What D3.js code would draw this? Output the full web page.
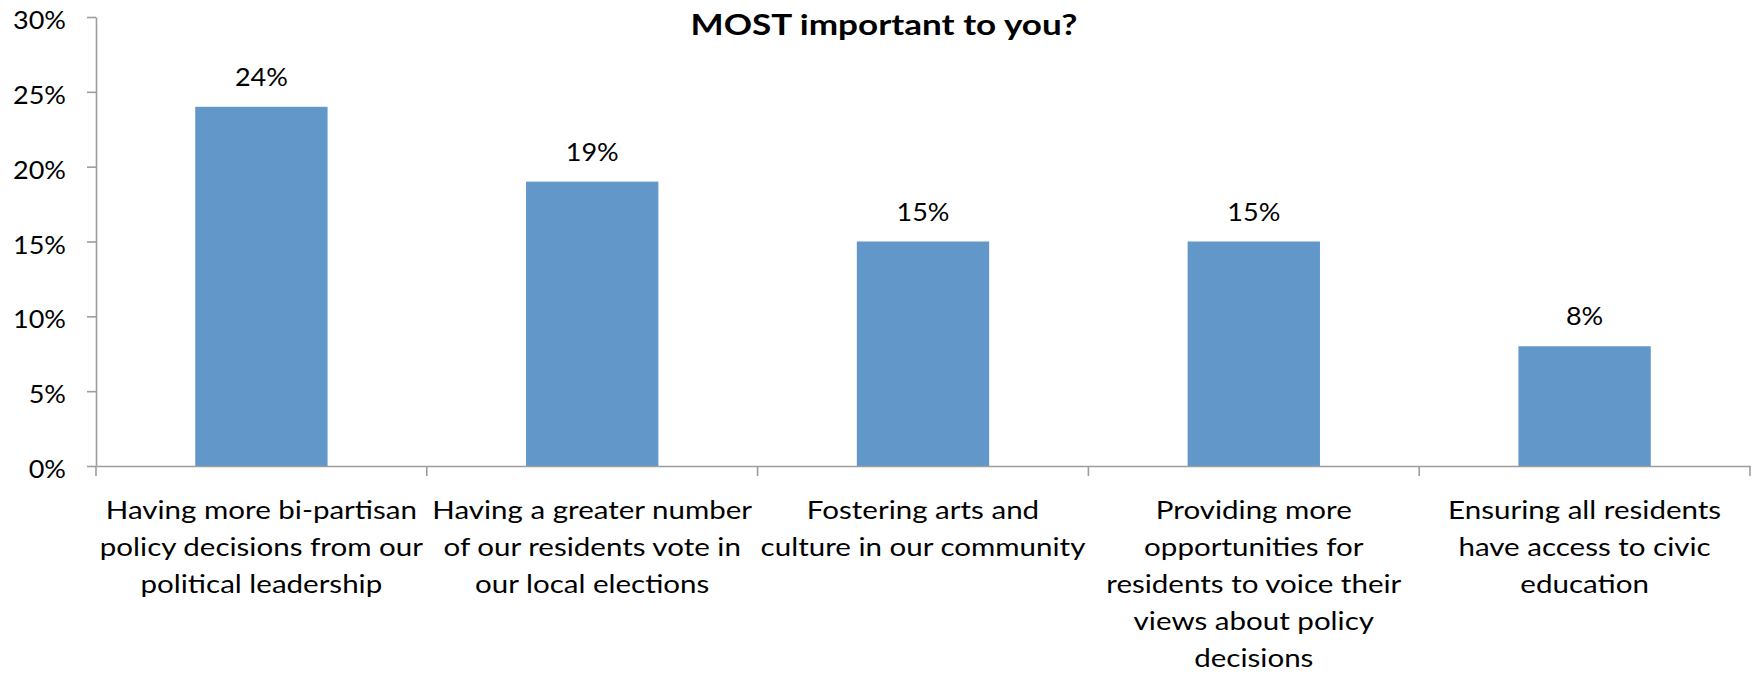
<!DOCTYPE html>
<html>
<head>
<meta charset="utf-8">
<script src="https://cdn.jsdelivr.net/npm/d3@7/dist/d3.min.js"></script>
<style>
  html, body { margin: 0; padding: 0; background: #ffffff; }
  svg text { font-family: Lato, "Open Sans", "DejaVu Sans", sans-serif; fill: #000; }
</style>
</head>
<body>
<svg id="chart" width="1757" height="675"></svg>
<script>
// ---------------- data ----------------
const chartTitle = "MOST important to you?";
const categories = [
  "Having more bi-partisan policy decisions from our political leadership",
  "Having a greater number of our residents vote in our local elections",
  "Fostering arts and culture in our community",
  "Providing more opportunities for residents to voice their views about policy decisions",
  "Ensuring all residents have access to civic education"
];
const categoryLines = [
  ["Having more bi-partisan", "policy decisions from our", "political leadership"],
  ["Having a greater number", "of our residents vote in", "our local elections"],
  ["Fostering arts and", "culture in our community"],
  ["Providing more", "opportunities for", "residents to voice their", "views about policy", "decisions"],
  ["Ensuring all residents", "have access to civic", "education"]
];
const values = [24, 19, 15, 15, 8];
const yTickValues = [0, 5, 10, 15, 20, 25, 30];
const yDomain = [0, 30];

// ---------------- layout ----------------
const W = 1757, H = 675;
const plotLeft = 96, plotRight = 1750, plotTop = 17, plotBottom = 466;
const fontSize = 25.5;
const titleFontSize = 28.5;
const axisColor = "#9d9d9d";
const barColor = "#6197C9";

const svg = d3.select("#chart");

const x = d3.scaleBand().domain(categories).range([plotLeft, plotRight]).paddingInner(0).paddingOuter(0);
const y = d3.scaleLinear().domain(yDomain).range([plotBottom, plotTop]);

// measure horizontal stretch so text widths match the reference
function measure(str, size, weight) {
  const t = svg.append("text").attr("font-size", size).attr("font-weight", weight || "normal").text(str);
  const w = t.node().getComputedTextLength();
  t.remove();
  return w;
}
const sx = 320 / measure("Having a greater number", fontSize);
const sxNum = 53 / measure("30%", fontSize);
const sxTitle = 387 / measure(chartTitle, titleFontSize, "bold");

function placeText(g, str, px, py, anchor, size, weight, stretch) {
  return g.append("text")
    .attr("transform", `translate(${px},${py}) scale(${stretch},1)`)
    .attr("text-anchor", anchor)
    .attr("font-size", size)
    .attr("font-weight", weight || "normal")
    .text(str);
}

// ---------------- bars ----------------
const barFrac = 0.4;
svg.append("g").selectAll("rect")
  .data(values)
  .join("rect")
  .attr("x", (d, i) => x(categories[i]) + x.bandwidth() * (1 - barFrac) / 2)
  .attr("width", x.bandwidth() * barFrac)
  .attr("y", d => y(d))
  .attr("height", d => y(0) - y(d))
  .attr("fill", barColor);

// ---------------- y axis ----------------
const yAxisG = svg.append("g")
  .attr("transform", `translate(${plotLeft},0)`)
  .call(d3.axisLeft(y).tickValues(yTickValues).tickSize(9).tickSizeOuter(0).tickFormat(d => d + "%"));
yAxisG.select(".domain").attr("stroke", axisColor).attr("stroke-width", 1.6);
yAxisG.selectAll(".tick line").attr("stroke", axisColor).attr("stroke-width", 1.6);
yAxisG.selectAll(".tick text").remove();
const yLabelG = svg.append("g");
yTickValues.forEach(v => {
  placeText(yLabelG, v + "%", plotLeft - 30, y(v) + 12, "end", fontSize, "normal", sxNum);
});

// ---------------- x axis ----------------
const xAxisG = svg.append("g")
  .attr("transform", `translate(0,${plotBottom})`)
  .call(d3.axisBottom(x).tickSize(0).tickSizeOuter(0).tickFormat(""));
xAxisG.select(".domain").attr("stroke", axisColor).attr("stroke-width", 1.6);
xAxisG.selectAll(".tick").remove();
const boundaries = categories.map(c => x(c)).concat([x.range()[1]]);
xAxisG.selectAll("line.bound")
  .data(boundaries)
  .join("line")
  .attr("class", "bound")
  .attr("x1", d => d).attr("x2", d => d)
  .attr("y1", 0).attr("y2", 10)
  .attr("stroke", axisColor).attr("stroke-width", 1.6);

// category labels
const catG = svg.append("g");
categoryLines.forEach((lines, i) => {
  const cx = x(categories[i]) + x.bandwidth() / 2;
  lines.forEach((ln, k) => {
    placeText(catG, ln, cx, 519 + k * 37, "middle", fontSize, "normal", sx);
  });
});

// ---------------- data labels ----------------
const dlG = svg.append("g");
values.forEach((v, i) => {
  const cx = x(categories[i]) + x.bandwidth() / 2;
  placeText(dlG, v + "%", cx, y(v) - 21, "middle", fontSize, "normal", sxNum);
});

// ---------------- title ----------------
placeText(svg.append("g"), chartTitle, 884, 35, "middle", titleFontSize, "bold", sxTitle);
</script>
</body>
</html>
